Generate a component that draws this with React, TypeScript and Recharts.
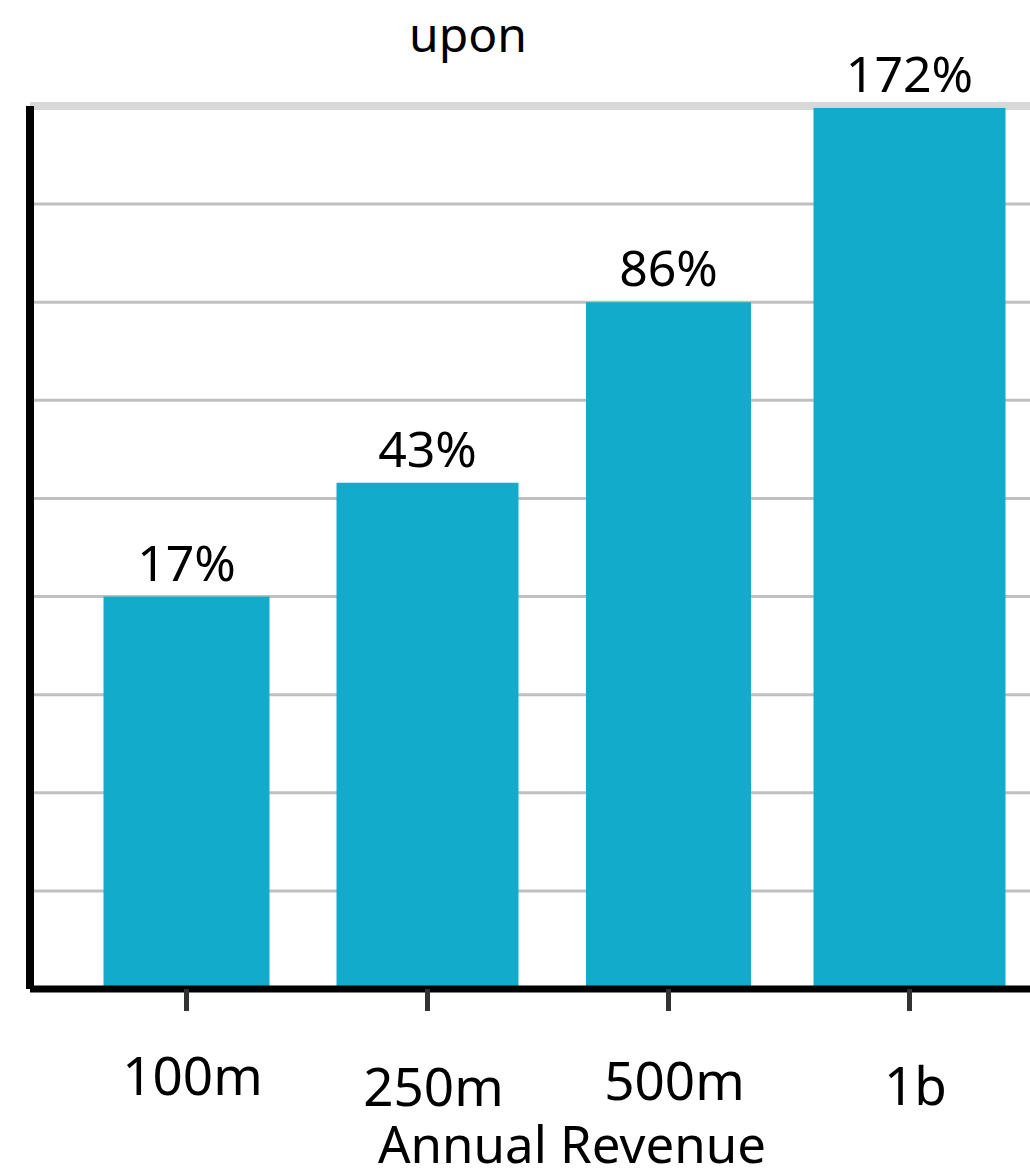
import React from 'react';
import {
  BarChart,
  Bar,
  XAxis,
  YAxis,
  CartesianGrid,
  ReferenceLine,
  LabelList,
} from 'recharts';

// revenue buckets on the x axis
const categories = ['100m', '250m', '500m', '1b'];
// bar heights as drawn, in grid steps (the chart is not to scale)
const barHeights = [4, 5.16, 7, 8.98];
// printed labels above the bars
const valueLabels = ['17%', '43%', '86%', '172%'];
const yTicks = [0, 1, 2, 3, 4, 5, 6, 7, 8, 9];

const data = categories.map((c, i) => ({ name: c, h: barHeights[i], label: valueLabels[i] }));

const FONT = '"Noto Sans", sans-serif';
const BAR_COLOR = '#13abcc';
// the original bars are not all the same width, and the tick labels are not level
const barWidths = [166, 182, 165, 192];
const tickDy = [82, 93, 87, 92];

function BarShape(props: any) {
  const { x, y, width, height, index } = props;
  const w = barWidths[index] ?? width;
  const cx = x + width / 2;
  return <rect x={cx - w / 2} y={y} width={w} height={Math.max(0, height - 3)} fill={BAR_COLOR} />;
}

function Tick(props: any) {
  const { x, y, payload, index } = props;
  return (
    <text x={x + 6} y={y + (tickDy[index] ?? 85)} textAnchor="middle" fontFamily={FONT} fontSize={53} fill="#000">
      {payload.value}
    </text>
  );
}

const NoTick = () => <g />;

export default function App() {
  return (
    <div style={{ position: 'absolute', left: 0, top: 0, width: 1030, height: 1172, background: '#fff' }}>
      <BarChart
        width={1030}
        height={1172}
        data={data}
        margin={{ top: 106, right: 0, left: 29, bottom: 0 }}
        barCategoryGap={32}
      >
        <CartesianGrid vertical={false} stroke="#c0c0c0" strokeWidth={3} />
        <ReferenceLine y={9} stroke="#d8d8d8" strokeWidth={8} zIndex={-10} />
        <XAxis
          dataKey="name"
          height={183}
          padding={{ left: 36, right: 0 }}
          axisLine={{ stroke: '#000', strokeWidth: 7 }}
          tickLine={{ stroke: '#333', strokeWidth: 5 }}
          tickSize={22}
          tick={<Tick />}
          interval={0}
        />
        <YAxis
          width={1}
          domain={[0, 9]}
          ticks={yTicks}
          interval={0}
          tick={NoTick}
          tickLine={false}
          axisLine={{ stroke: '#000', strokeWidth: 8 }}
        />
        <Bar dataKey="h" isAnimationActive={false} shape={<BarShape />}>
          <LabelList
            dataKey="label"
            position="top"
            offset={16}
            fontFamily={FONT}
            fontSize={50}
            fill="#000"
          />
        </Bar>
      </BarChart>
      <svg width={1030} height={1172} style={{ position: 'absolute', left: 0, top: 0, pointerEvents: 'none' }}>
        <text x={468} y={52} textAnchor="middle" fontFamily={FONT} fontSize={48} fill="#000">
          upon
        </text>
        <text x={572} y={1163} textAnchor="middle" fontFamily={FONT} fontSize={51} fill="#000">
          Annual Revenue
        </text>
      </svg>
    </div>
  );
}
